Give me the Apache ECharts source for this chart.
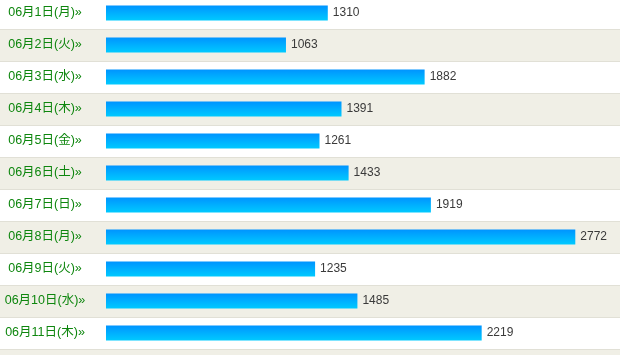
<!DOCTYPE html>
<html>
<head>
<meta charset="utf-8">
<script src="https://cdn.jsdelivr.net/npm/echarts@6/dist/echarts.min.js"></script>
<style>
html,body{margin:0;padding:0;background:#f0efe6;}
#main{width:620px;height:355px;}
</style>
</head>
<body>
<div id="main"></div>
<script>
var categories = ['06月1日(月)»','06月2日(火)»','06月3日(水)»','06月4日(木)»','06月5日(金)»','06月6日(土)»','06月7日(日)»','06月8日(月)»','06月9日(火)»','06月10日(水)»','06月11日(木)»'];
var values = [1310, 1063, 1882, 1391, 1261, 1433, 1919, 2772, 1235, 1485, 2219];

var chart = echarts.init(document.getElementById('main'), null, {renderer: 'canvas'});
chart.setOption({
  backgroundColor: '#f0efe6',
  animation: false,
  grid: {left: 0, right: 0, top: -3, height: 352, containLabel: false, outerBoundsMode: 'none'},
  xAxis: {
    type: 'value',
    min: -626.1,
    max: 3036,
    show: false,
    splitLine: {show: false}
  },
  yAxis: {
    type: 'category',
    inverse: true,
    data: categories,
    axisLine: {show: false},
    axisTick: {show: false},
    axisLabel: {
      inside: true,
      align: 'center',
      margin: 45,
      color: '#0e860e',
      fontSize: 12.5,
      fontFamily: 'Liberation Sans, Noto Sans CJK JP, sans-serif'
    },
    splitArea: {show: true, areaStyle: {color: ['#ffffff', '#f0efe6']}},
    splitLine: {show: true, lineStyle: {color: '#e1e0d6', width: 1}}
  },
  series: [{
    type: 'bar',
    data: values,
    barWidth: 15,
    itemStyle: {
      color: new echarts.graphic.LinearGradient(0, 0, 0, 1, [
        {offset: 0, color: '#0094ff'},
        {offset: 1, color: '#00caff'}
      ])
    },
    label: {
      show: true,
      position: 'right',
      distance: 5,
      color: '#3a3a3a',
      fontSize: 12,
      fontFamily: 'Liberation Sans, sans-serif'
    }
  }]
});
</script>
</body>
</html>
